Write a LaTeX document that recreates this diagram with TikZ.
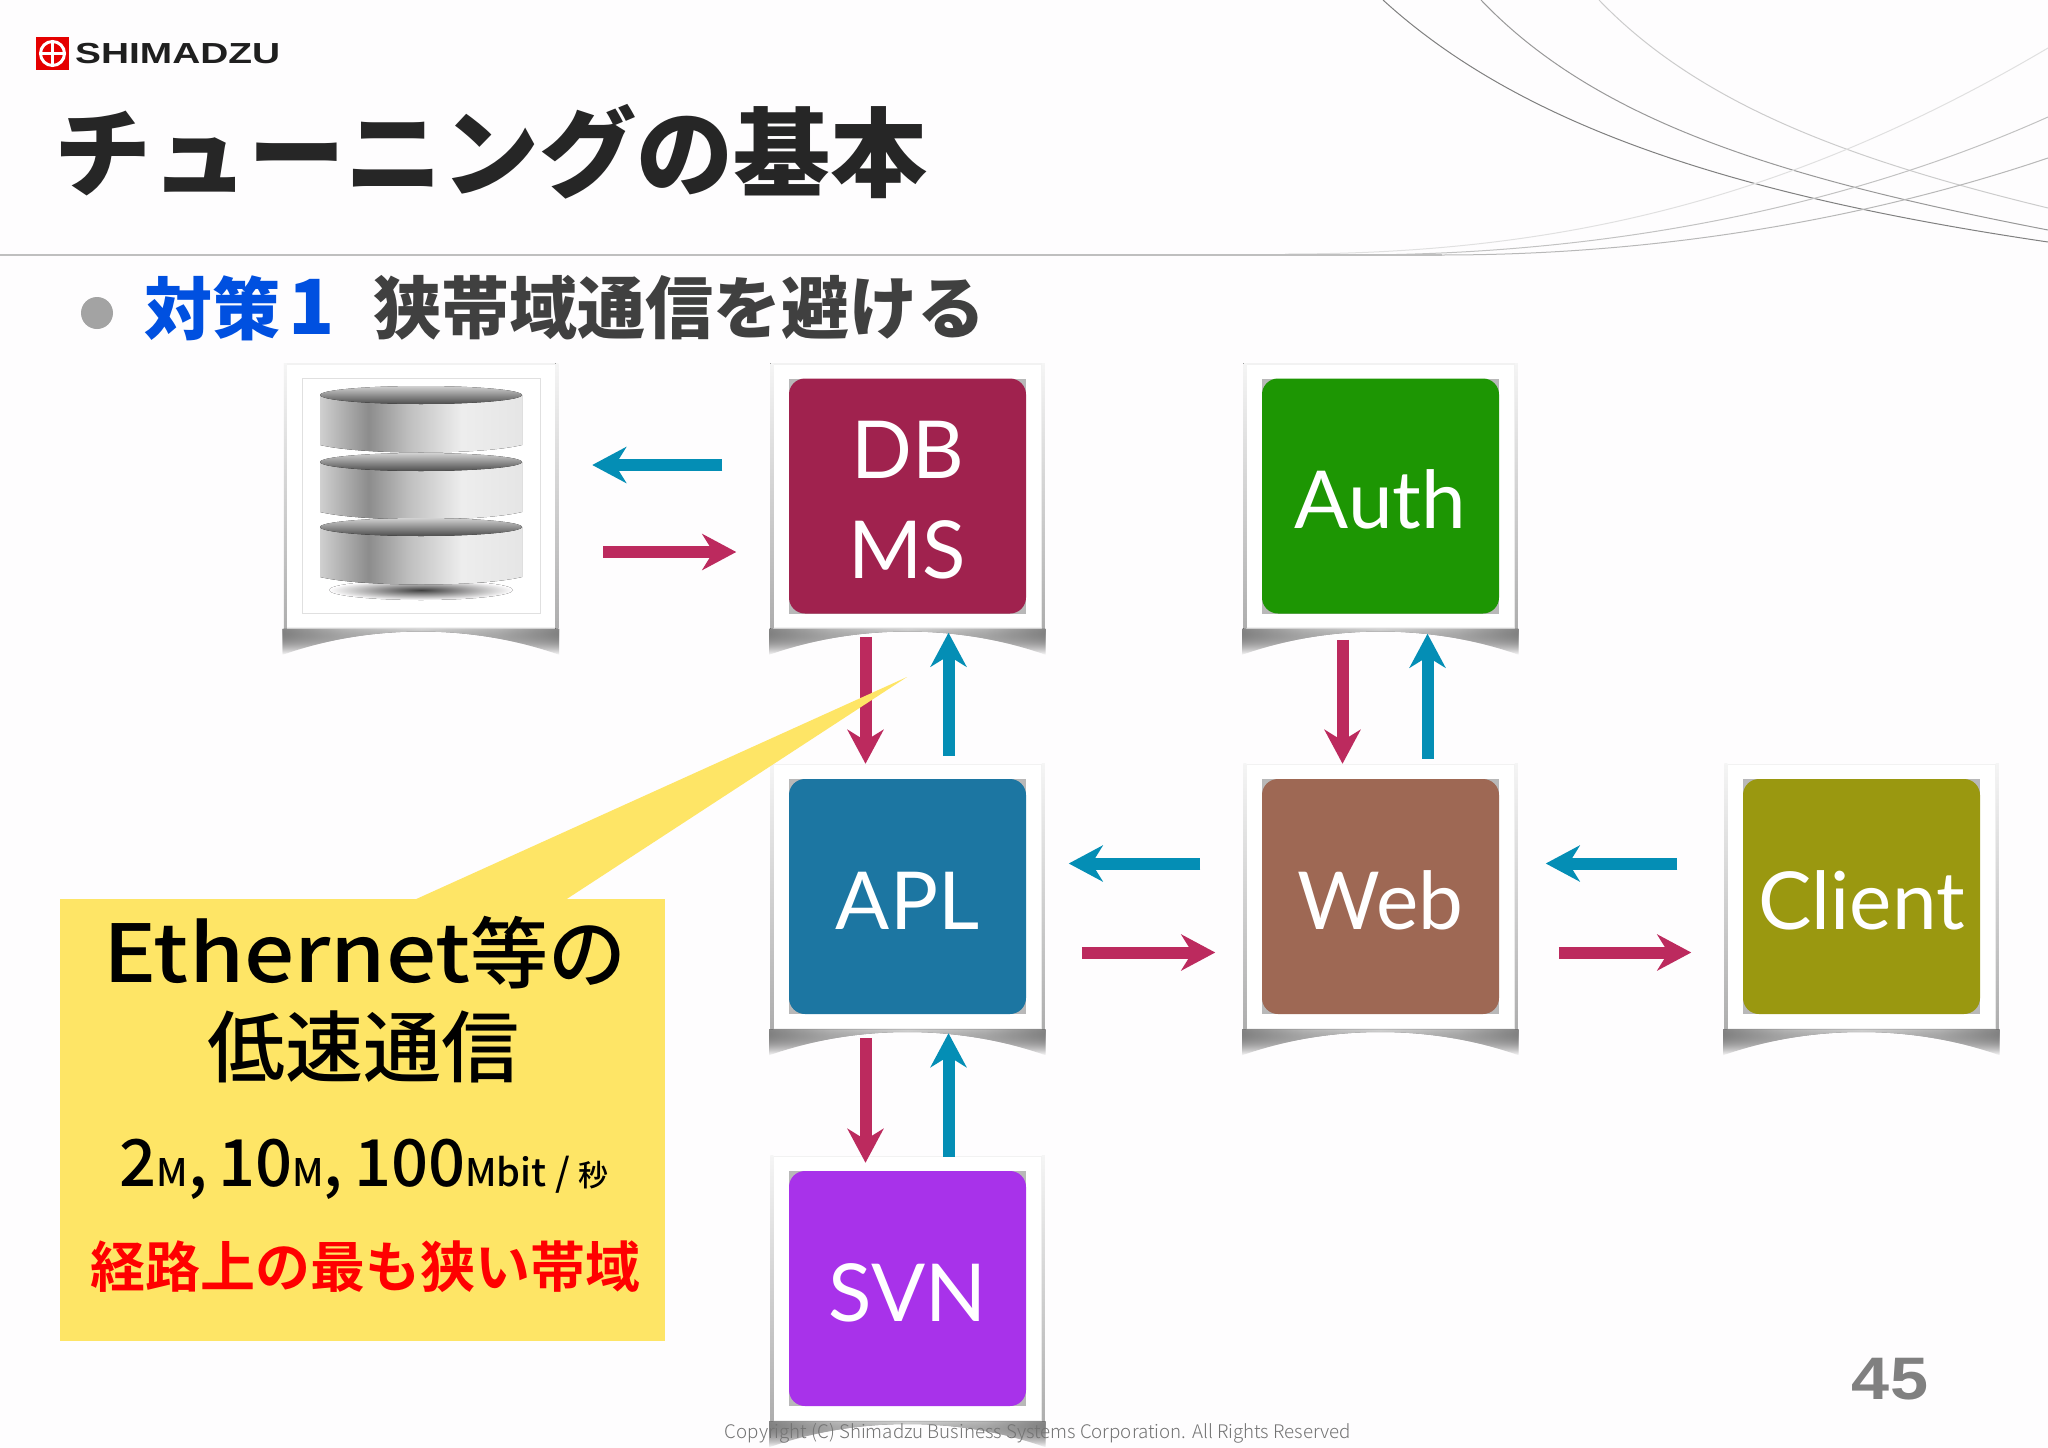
\documentclass[tikz,border=0pt]{standalone}
\usepackage{fontspec}
\usetikzlibrary{calc}
\usetikzlibrary{arrows.meta}
\usetikzlibrary{fadings}
\setmainfont{Liberation Sans}
\newfontfamily\cjkheavy{Noto Sans CJK JP Black}
\newfontfamily\cjkbold{Noto Sans CJK JP Bold}
\newfontfamily\cjkplain{Noto Sans CJK JP Medium}
\newfontfamily\cjklight{Noto Sans CJK JP Light}
\newfontfamily\tilefont{Lato}
\newcommand{\fsize}[1]{\fontsize{#1}{#1}\selectfont}
\definecolor{pagewhite}{HTML}{FEFDFE}
\definecolor{reqred}{HTML}{BC2A5E}
\definecolor{resblue}{HTML}{048EB5}
\definecolor{calloutyellow}{HTML}{FEE566}
\definecolor{dbmscol}{HTML}{A0224E}
\definecolor{authcol}{HTML}{1D9603}
\definecolor{aplcol}{HTML}{1C76A2}
\definecolor{webcol}{HTML}{9E6854}
\definecolor{clientcol}{HTML}{9A9810}
\definecolor{svncol}{HTML}{A832EA}
\pgfdeclarehorizontalshading{metal}{100bp}{
  color(0bp)=(black!25); color(8bp)=(black!8); color(22bp)=(black!12);
  color(37bp)=(black!45); color(47bp)=(black!25); color(60bp)=(black!7);
  color(85bp)=(black!12); color(100bp)=(black!38)}
\pgfdeclarehorizontalshading{shadowband}{100bp}{
  color(0bp)=(black!32); color(18bp)=(black!55); color(36bp)=(black!18);
  color(50bp)=(black!4); color(64bp)=(black!18); color(82bp)=(black!55);
  color(100bp)=(black!32)}
\tikzset{
every picture/.style={x=1pt, y=-1pt, >=stealth},
%%%%%%%%%%  Node styles
card/.style={draw=black!5, line width=1.5pt, fill=white,
             minimum width=269pt, minimum height=264pt, inner sep=0},
tile/.style={rounded corners=16pt, minimum width=237pt, minimum height=235pt,
             inner sep=0, text=white, align=center, text height=66pt,
             font=\tilefont\fontsize{80}{100}\selectfont},
backing/.style={fill=black!28, minimum width=237pt, minimum height=235pt,
                inner sep=0},
%%%% different line styles:
cardshadow/.style={shading=shadowband, path fading=south},
cardside/.style={top color=black!4, bottom color=black!32},
curve/.style={line width=1pt},
reqarrow/.style={-{Stealth[length=34pt,width=36pt,inset=11pt]},
                 line width=12pt, reqred},
resarrow/.style={-{Stealth[length=34pt,width=36pt,inset=11pt]},
                 line width=12pt, resblue},
}

\begin{document}
\begin{tikzpicture}
\useasboundingbox[fill=pagewhite] (0,0) rectangle (2048,1448);
% background curves
\draw[curve,black!50] (1383,0) .. controls (1520,125) and (1730,195) .. (2048,242);
\draw[curve,black!40] (1481,0) .. controls (1600,125) and (1790,180) .. (2048,230);
\draw[curve,black!20] (1599,0) .. controls (1700,105) and (1850,160) .. (2048,208);
\draw[curve,black!28] (1442,255) .. controls (1640,255) and (1850,225) .. (2048,158);
\draw[curve,black!24] (1351,255) .. controls (1600,255) and (1840,210) .. (2048,117);
\draw[curve,black!12] (1285,254) .. controls (1560,254) and (1790,200) .. (2048,48);
\draw[black!25,line width=1.6pt] (0,255) -- (1442,255);
% logo
\node[fill=red!90!black, minimum size=33pt, inner sep=0] (logobox) at (52.5,53.5) {};
\node[circle, draw=white, line width=3pt, minimum size=24pt, inner sep=0] (logoring) at (logobox) {};
\draw[white, line width=2.4pt] (logoring.north) -- (logoring.south);
\draw[white, line width=2.4pt] (logoring.west) -- (logoring.east);
\node[anchor=west, inner sep=0, text=black!88] (logotext) at (75,53.5)
  {\scalebox{1.34}[1]{\bfseries\fsize{29}SHIMADZU}};
% headings
\node[anchor=west, inner sep=0, text=black!85] (title) at (54,152)
  {\cjkheavy\fsize{97}チューニングの基本};
\node[circle, fill=black!36, minimum size=32pt, inner sep=0] (bullet) at (97,313) {};
\node[anchor=west, inner sep=0, text=black!75] (subtitle) at (373,308)
  {\cjkheavy\fsize{68}狭帯域通信を避ける};
\node[anchor=west, inner sep=0, text={rgb,255:red,0;green,80;blue,224}] (subtitlelead) at (144,308)
  {\cjkheavy\fsize{68}対策\hspace{8pt}\fsize{76}1};
% cards
\node[card] (db) at (421,496) {};
\node[card] (dbms) at (907.5,496) {};
\node[card] (auth) at (1380.5,496) {};
\node[card] (apl) at (907.5,896.5) {};
\node[card] (web) at (1380.5,896.5) {};
\node[card] (client) at (1861.5,896.5) {};
\node[card] (svn) at (907.5,1288.5) {};
\foreach \c in {db,dbms,auth,apl,web,client,svn} {
  \fill[cardside] ([xshift=-2pt]\c.north west) rectangle ([xshift=1pt]\c.south west);
  \fill[cardside] ([xshift=-1pt]\c.north east) rectangle ([xshift=2pt]\c.south east);
  \fill[cardshadow] ([xshift=-3pt]\c.south west) -- ([xshift=3pt]\c.south east)
    -- ($(\c.south east)+(3,26)$) .. controls ($(\c.south east)+(-85,-5)$)
    and ($(\c.south west)+(85,-5)$) .. ($(\c.south west)+(-3,26)$) -- cycle;
}
\foreach \c in {dbms,auth,apl,web,client,svn}
  \node[backing] (\c back) at (\c) {};
\node[tile, fill=dbmscol, text height=166pt] (dbmstile) at (dbms) {DB\\MS};
\node[tile, fill=authcol] (authtile) at (auth) {Auth};
\node[tile, fill=aplcol] (apltile) at (apl) {APL};
\node[tile, fill=webcol] (webtile) at (web) {Web};
\node[tile, fill=clientcol] (clienttile) at (client) {Client};
\node[tile, fill=svncol] (svntile) at (svn) {SVN};
% database icon
\node[draw=black!12, fill=white, minimum width=238pt, minimum height=235pt, inner sep=0] (dbframe) at (db) {};
\fill[inner color=black!75, outer color=pagewhite] ($(db)+(0,94)$) ellipse (92 and 10);
\foreach \top in {-101,-34,31} {
  \begin{scope}[shift={(db.center)}]
    \fill[shading=metal] (-101,\top) -- (-101,\top+50) .. controls (-60,\top+60) and (60,\top+60) .. (101,\top+50) -- (101,\top) -- cycle;
    \fill[top color=black!18, middle color=black!30, bottom color=black!70] (0,\top) ellipse (101 and 9);
  \end{scope}
}
% connectors
\draw[resarrow] ([yshift=31pt,xshift=-50pt]dbms.west) -- ([yshift=31pt,xshift=36pt]db.east);
\draw[reqarrow] ([yshift=-56pt,xshift=47pt]db.east) -- ([yshift=-56pt,xshift=-36pt]dbms.west);
\draw[reqarrow] ([xshift=-42pt,yshift=-8pt]dbms.south) -- ([xshift=-42pt]apl.north);
\draw[resarrow] ([xshift=41pt,yshift=8pt]apl.north) -- ([xshift=41pt,yshift=-4pt]dbms.south);
\draw[reqarrow] ([xshift=-38pt,yshift=-11pt]auth.south) -- ([xshift=-38pt]web.north);
\draw[resarrow] ([xshift=47pt,yshift=5pt]web.north) -- ([xshift=47pt,yshift=-5pt]auth.south);
\draw[reqarrow] ([xshift=-42pt,yshift=-9pt]apl.south) -- ([xshift=-42pt,yshift=-7pt]svn.north);
\draw[resarrow] ([xshift=41pt,yshift=-1pt]svn.north) -- ([xshift=41pt,yshift=-4pt]apl.south);
\draw[resarrow] ([yshift=33pt,xshift=-45pt]web.west) -- ([yshift=33pt,xshift=26pt]apl.east);
\draw[reqarrow] ([yshift=-56pt,xshift=39pt]apl.east) -- ([yshift=-56pt,xshift=-30pt]web.west);
\draw[resarrow] ([yshift=33pt,xshift=-49pt]client.west) -- ([yshift=33pt,xshift=30pt]web.east);
\draw[reqarrow] ([yshift=-56pt,xshift=43pt]web.east) -- ([yshift=-56pt,xshift=-35pt]client.west);
% callout
\node[fill=calloutyellow, minimum width=605pt, minimum height=442pt, inner sep=0] (callout) at (362.5,1120) {};
\coordinate (callouttip) at (907,677);
\fill[calloutyellow] ($(callout.north)+(52,1)$) -- (callouttip) -- ($(callout.north)+(203,1)$) -- cycle;
\node[inner sep=0, anchor=base west] (ethernet) at (103,982) {\cjkplain\scalebox{1.11}[1]{\fsize{80}Ethernet}\fsize{78}等の};
\node[inner sep=0] (lowspeed) at (363,1047) {\cjkplain\fsize{78}低速通信};
\node[inner sep=0] (rates) at (364,1169) {\cjkplain\fsize{65}2{\fsize{38}M},\,10{\fsize{38}M},\,100{\fsize{38}Mbit / \fsize{30}秒}};
\node[inner sep=0, text=red] (narrowest) at (365,1267) {\cjkbold\fsize{55}経路上の最も狭い帯域};
% footer
\node[inner sep=0, text=black!50] (pagenum) at (1890,1379) {\scalebox{1.14}[1]{\bfseries\fsize{60}45}};
\node[inner sep=0, text=black!55] (copyright) at (1038,1433) {\cjklight\fsize{18.7}Copyright (C) Shimadzu Business Systems Corporation. All Rights Reserved};
\end{tikzpicture}
\end{document}
